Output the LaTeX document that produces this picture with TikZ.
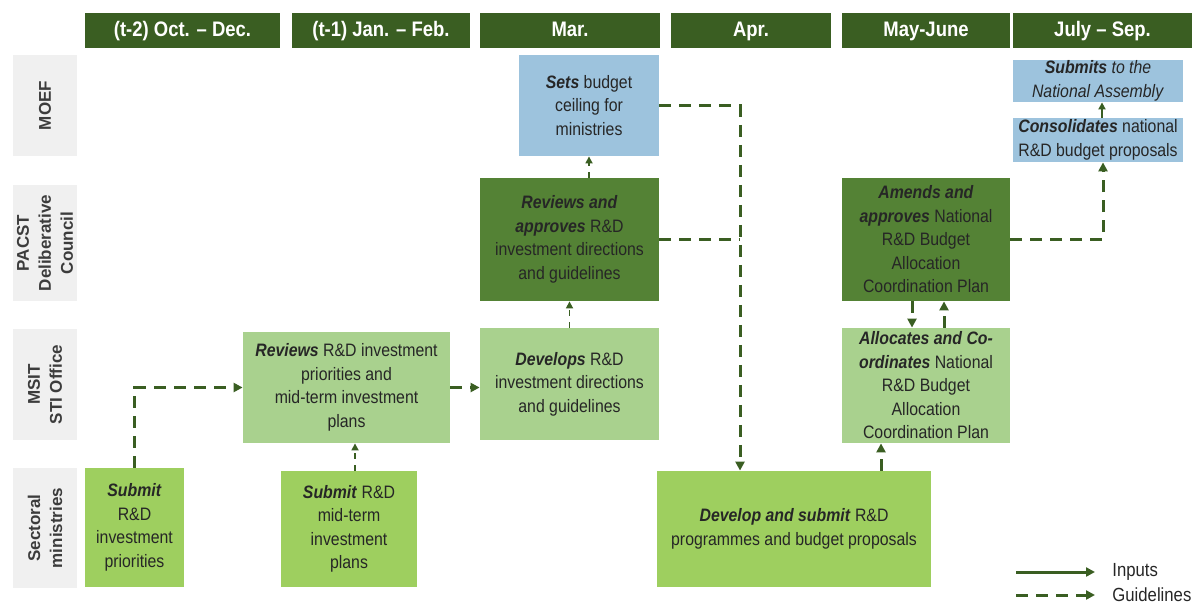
\documentclass[tikz,border=0pt]{standalone}
\usepackage{xcolor}
\usepackage{fontspec}
\setmainfont{Liberation Sans}[FakeStretch=0.88]
\newfontfamily\lblfont{Liberation Sans}
\usepackage{tikz}
\usetikzlibrary{arrows.meta}

\definecolor{hdgreen}{HTML}{3A5E22}
\definecolor{dkgreen}{HTML}{548235}
\definecolor{ltgreen}{HTML}{A9D18E}
\definecolor{sectgreen}{HTML}{9ECF5F}
\definecolor{boxblue}{HTML}{9DC3DD}
\definecolor{lblgray}{HTML}{F0F0F0}
\definecolor{txt}{HTML}{262626}

\begin{document}
\begin{tikzpicture}[x=0.5pt, y=-0.5pt,
    header/.style={fill=hdgreen, text=white, font=\fontsize{10.5}{13}\selectfont\bfseries, minimum height=17.5pt, inner sep=0pt, text height=8pt, text depth=2.5pt},
    rowlbl/.style={fill=lblgray, text=txt!90, rotate=90, align=center, minimum height=32pt, inner sep=0pt, font=\lblfont\fontsize{8.5}{11}\selectfont\bfseries},
    box/.style={align=center, inner sep=0pt, text=txt, font=\fontsize{9}{11.75}\selectfont},
    guide/.style={draw=hdgreen, line width=1.5pt, dash pattern=on 6pt off 4pt, -{Triangle[length=4.5pt,width=4.5pt]}},
    thinguide/.style={draw=hdgreen, line width=0.8pt, dash pattern=on 3pt off 3pt, -{Triangle[length=3.5pt,width=3.5pt]}},
    input/.style={draw=hdgreen, line width=1.5pt, -{Triangle[length=4.5pt,width=4.5pt]}}]
    \useasboundingbox (0,0) rectangle (1192,605);

    % time periods
    \node[header, minimum width=97.5pt] at (182.5, 30.5) (hd1) {(t-2) Oct. -- Dec.};
    \node[header, minimum width=89pt] at (381, 30.5) (hd2) {(t-1) Jan. -- Feb.};
    \node[header, minimum width=90pt] at (570, 30.5) (hd3) {Mar.};
    \node[header, minimum width=80pt] at (751, 30.5) (hd4) {Apr.};
    \node[header, minimum width=84pt] at (926, 30.5) (hd5) {May-June};
    \node[header, minimum width=89.5pt] at (1102.5, 30.5) (hd6) {July -- Sep.};

    % actors
    \node[rowlbl, minimum width=50.5pt] at (45, 105.5) (moef) {MOEF};
    \node[rowlbl, minimum width=58pt] at (45, 243) (pacst) {PACST\\Deliberative\\Council};
    \node[rowlbl, minimum width=55.5pt] at (45, 384.5) (msit) {MSIT\\STI Office};
    \node[rowlbl, minimum width=60pt] at (45, 528) (sect) {Sectoral\\ministries};

    % MOEF
    \node[box, fill=boxblue, minimum width=70pt, minimum height=50.5pt] at (589, 105.5) (sets)
        {\textbf{\textit{Sets}} budget\\ceiling for\\ministries};
    \node[box, fill=boxblue, minimum width=85pt, minimum height=21pt] at (1098, 81) (submits)
        {\textbf{\textit{Submits}} \textit{to the}\\\textit{National Assembly}};
    \node[box, fill=boxblue, minimum width=85pt, minimum height=22pt] at (1098, 140) (consol)
        {\textbf{\textit{Consolidates}} national\\R\&D budget proposals};

    % PACST
    \node[box, fill=dkgreen, minimum width=89.5pt, minimum height=61.5pt] at (569.5, 239.5) (revapp)
        {\textbf{\textit{Reviews and}}\\\textbf{\textit{approves}} R\&D\\investment directions\\and guidelines};
    \node[box, fill=dkgreen, minimum width=84pt, minimum height=61.5pt] at (926, 239.5) (amend)
        {\textbf{\textit{Amends and}}\\\textbf{\textit{approves}} National\\R\&D Budget\\Allocation\\Coordination Plan};

    % MSIT
    \node[box, fill=ltgreen, minimum width=103.5pt, minimum height=55.5pt] at (346.5, 387.5) (reviews)
        {\textbf{\textit{Reviews}} R\&D investment\\priorities and\\mid-term investment\\plans};
    \node[box, fill=ltgreen, minimum width=89.5pt, minimum height=56pt] at (569.5, 384) (develops)
        {\textbf{\textit{Develops}} R\&D\\investment directions\\and guidelines};
    \node[box, fill=ltgreen, minimum width=84pt, minimum height=57.5pt] at (926, 385.5) (alloc)
        {\textbf{\textit{Allocates and Co-}}\\\textbf{\textit{ordinates}} National\\R\&D Budget\\Allocation\\Coordination Plan};

    % sectoral ministries
    \node[box, fill=sectgreen, minimum width=49.5pt, minimum height=59.5pt] at (134.5, 527.5) (subprio)
        {\textbf{\textit{Submit}}\\R\&D\\investment\\priorities};
    \node[box, fill=sectgreen, minimum width=68pt, minimum height=58pt] at (349, 529) (submid)
        {\textbf{\textit{Submit}} R\&D\\mid-term\\investment\\plans};
    \node[box, fill=sectgreen, minimum width=137pt, minimum height=58pt] at (794, 529) (devsub)
        {\textbf{\textit{Develop and submit}} R\&D\\programmes and budget proposals};

    % guidelines
    \coordinate (apr) at (740, 0);
    \draw[guide] (subprio.north) -- (subprio.north |- reviews.west) -- (reviews.west);
    \draw[thinguide] ([xshift=3pt]submid.north) -- ([xshift=3pt]submid.north |- reviews.south);
    \draw[guide] (reviews.east) -- (develops.west |- reviews.east);
    \draw[thinguide] (develops.north) -- (revapp.south);
    \draw[thinguide] (sets.south |- revapp.north) -- (sets.south);
    \draw[guide] (sets.east) -- (sets.east -| apr) -- (apr |- devsub.north);
    \draw[guide, -] (revapp.east) -- (revapp.east -| apr);
    \draw[guide] ([xshift=-22.5pt]alloc.south |- devsub.north) -- ([xshift=-22.5pt]alloc.south);
    \draw[guide] ([xshift=-7pt]amend.south) -- ([xshift=-7pt]alloc.north);
    \draw[guide] ([xshift=9pt]alloc.north) -- ([xshift=9pt]amend.south);
    \draw[guide] (amend.east) -- ([xshift=2.5pt]consol.south |- amend.east) -- ([xshift=2.5pt]consol.south);

    % inputs
    \draw[input, line width=1pt, -{Triangle[length=3.5pt,width=3.5pt]}] ([xshift=2pt]consol.north) -- ([xshift=2pt]submits.south);

    % legend
    \coordinate (lgA) at (1016, 572);
    \coordinate (lgB) at (1095, 572);
    \coordinate (lgC) at (1016, 595);
    \coordinate (lgD) at (1095, 595);
    \node[anchor=west, inner sep=0pt, text=txt, font=\fontsize{9.5}{11}\selectfont] at (1112, 572) (inputs) {Inputs};
    \node[anchor=west, inner sep=0pt, text=txt, font=\fontsize{9.5}{11}\selectfont] at (1112, 595) (guides) {Guidelines};
    \draw[input] (lgA) -- (lgB);
    \draw[guide] (lgC) -- (lgD);
\end{tikzpicture}
\end{document}
